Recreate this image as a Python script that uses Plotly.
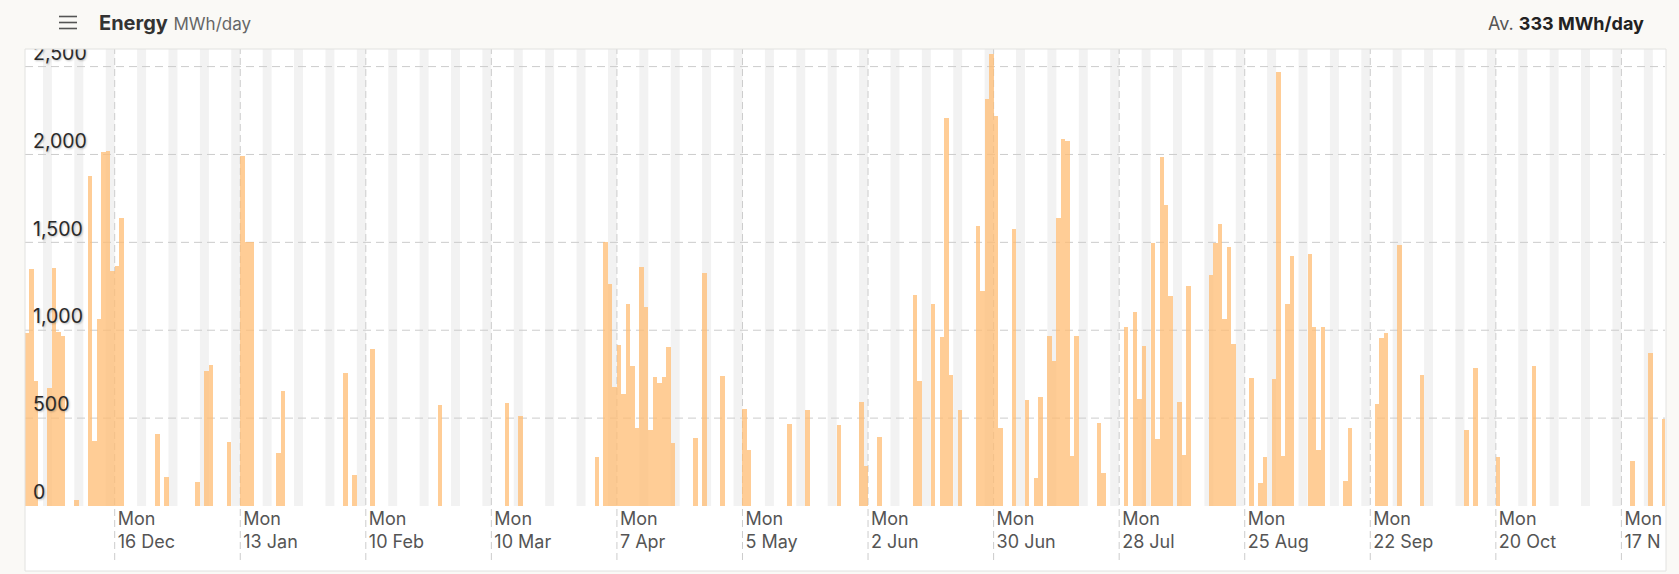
import plotly.graph_objects as go
from datetime import date, datetime, timedelta

# ---------------- data ----------------
RANGE_START = "2024-11-26 00:00"
RANGE_END = "2025-11-26 17:20"

days = [
    "2024-11-26", "2024-11-27", "2024-11-28", "2024-12-01", "2024-12-02", "2024-12-03",
    "2024-12-04", "2024-12-07", "2024-12-10", "2024-12-11", "2024-12-12", "2024-12-13",
    "2024-12-14", "2024-12-15", "2024-12-16", "2024-12-17", "2024-12-25", "2024-12-27",
    "2025-01-03", "2025-01-05", "2025-01-06", "2025-01-10", "2025-01-13", "2025-01-14",
    "2025-01-15", "2025-01-21", "2025-01-22", "2025-02-05", "2025-02-07", "2025-02-11",
    "2025-02-26", "2025-03-13", "2025-03-16", "2025-04-02", "2025-04-04", "2025-04-05",
    "2025-04-06", "2025-04-07", "2025-04-08", "2025-04-09", "2025-04-10", "2025-04-11",
    "2025-04-12", "2025-04-13", "2025-04-14", "2025-04-15", "2025-04-16", "2025-04-17",
    "2025-04-18", "2025-04-19", "2025-04-24", "2025-04-26", "2025-04-30", "2025-05-05",
    "2025-05-06", "2025-05-15", "2025-05-19", "2025-05-26", "2025-05-31", "2025-06-01",
    "2025-06-04", "2025-06-12", "2025-06-13", "2025-06-16", "2025-06-18", "2025-06-19",
    "2025-06-20", "2025-06-22", "2025-06-26", "2025-06-27", "2025-06-28", "2025-06-29",
    "2025-06-30", "2025-07-01", "2025-07-04", "2025-07-07", "2025-07-09", "2025-07-10",
    "2025-07-12", "2025-07-13", "2025-07-14", "2025-07-15", "2025-07-16", "2025-07-17",
    "2025-07-18", "2025-07-23", "2025-07-24", "2025-07-29", "2025-07-31", "2025-08-01",
    "2025-08-02", "2025-08-04", "2025-08-05", "2025-08-06", "2025-08-07", "2025-08-08",
    "2025-08-10", "2025-08-11", "2025-08-12", "2025-08-17", "2025-08-18", "2025-08-19",
    "2025-08-20", "2025-08-21", "2025-08-22", "2025-08-26", "2025-08-28", "2025-08-29",
    "2025-08-31", "2025-09-01", "2025-09-02", "2025-09-03", "2025-09-04", "2025-09-08",
    "2025-09-09", "2025-09-10", "2025-09-11", "2025-09-16", "2025-09-17", "2025-09-23",
    "2025-09-24", "2025-09-25", "2025-09-28", "2025-10-03", "2025-10-13", "2025-10-15",
    "2025-10-20", "2025-10-28", "2025-11-19", "2025-11-23", "2025-11-26",
]

energy_mwh = [
    983, 1348, 713, 669, 1352, 990,
    970, 36, 1876, 369, 1063, 2013,
    2021, 1336, 1363, 1639, 412, 165,
    135, 768, 802, 365, 1992, 1504,
    1502, 302, 656, 755, 179, 893,
    572, 587, 511, 279, 1504, 1264,
    679, 916, 637, 1150, 798, 445,
    1359, 1135, 435, 734, 701, 736,
    905, 359, 388, 1325, 741, 551,
    321, 464, 546, 460, 589, 230,
    393, 1200, 713, 1152, 964, 2205,
    745, 546, 1591, 1222, 2314, 2572,
    2218, 441, 1574, 603, 158, 622,
    968, 825, 1637, 2089, 2078, 283,
    968, 470, 188, 1017, 1101, 606,
    909, 1496, 384, 1988, 1713, 1196,
    593, 293, 1253, 1312, 1496, 1604,
    1066, 1475, 920, 726, 133, 278,
    720, 2471, 285, 1148, 1420, 1435,
    1017, 319, 1019, 143, 445, 580,
    958, 983, 1485, 747, 435, 785,
    281, 795, 255, 869, 493,
]

tick_dates = [
    "2024-12-16", "2025-01-13", "2025-02-10", "2025-03-10", "2025-04-07", "2025-05-05",
    "2025-06-02", "2025-06-30", "2025-07-28", "2025-08-25", "2025-09-22", "2025-10-20",
    "2025-11-17",
]
# the last label is cut off by the card's right edge in the original ("17 N...")
tick_labels = [
    "Mon<br>16 Dec", "Mon<br>13 Jan", "Mon<br>10 Feb", "Mon<br>10 Mar", "Mon<br>7 Apr",
    "Mon<br>5 May", "Mon<br>2 Jun", "Mon<br>30 Jun", "Mon<br>28 Jul", "Mon<br>25 Aug",
    "Mon<br>22 Sep", "Mon<br>20 Oct", "Mon<br>17 N",
]

y_tick_values = [0, 500, 1000, 1500, 2000, 2500]
y_axis_max = 2600
average_text = "333 MWh/day"

# ---------------- style / geometry ----------------
W, H = 1679, 574
M_L, M_R, M_T, M_B = 25, 14, 49, 68
PW, PH = W - M_L - M_R, H - M_T - M_B

PAGE_BG = "#FAF9F6"
BAR = "rgb(255,188,115)"
WEEKEND = "#F2F2F2"
GRID = "#CCCCCC"
FONT = "Inter"
CARD_RIGHT = 1666


def px_x(px):
    return (px - M_L) / PW


def px_y(py):
    return (H - M_B - py) / PH


bar_x = [d + "T12:00:00" for d in days]
DAY_MS = 86400000

fig = go.Figure(
    go.Bar(
        x=bar_x,
        y=energy_mwh,
        width=[DAY_MS] * len(days),
        marker=dict(color=BAR, opacity=0.75, line=dict(width=0)),
        hovertemplate="%{x|%a %d %b %Y}<br>%{y:,} MWh<extra></extra>",
    )
)

shapes = []
# white card behind everything
shapes.append(dict(type="rect", xref="paper", yref="paper",
                   x0=0, x1=px_x(CARD_RIGHT), y0=px_y(571), y1=1,
                   fillcolor="white", line=dict(width=0), layer="below"))

# weekend bands (Sat + Sun)
start = datetime.fromisoformat(RANGE_START).date()
end_dt = datetime.fromisoformat(RANGE_END)
d = start
while d <= end_dt.date():
    if d.weekday() == 5:
        e = min(datetime.combine(d + timedelta(days=2), datetime.min.time()), end_dt)
        shapes.append(dict(type="rect", xref="x", yref="paper",
                           x0=d.isoformat(), x1=e.isoformat(), y0=0, y1=1,
                           fillcolor=WEEKEND, line=dict(width=0), layer="below"))
    d += timedelta(days=1)

# horizontal dashed grid
for yv in y_tick_values:
    if yv > 0:
        shapes.append(dict(type="line", xref="paper", yref="y",
                           x0=0, x1=1, y0=yv, y1=yv,
                           line=dict(color=GRID, width=1, dash="8px,5px"), layer="below"))

# vertical dashed lines at labelled Mondays
for td in tick_dates:
    shapes.append(dict(type="line", xref="x", yref="paper",
                       x0=td, x1=td, y0=px_y(560), y1=1,
                       line=dict(color=GRID, width=1, dash="7px,4px"), layer="below"))

# header band drawn over the plot top (clips the top y label like the card does)
shapes.append(dict(type="rect", xref="paper", yref="paper",
                   x0=px_x(0), x1=px_x(W), y0=1, y1=px_y(0),
                   fillcolor=PAGE_BG, line=dict(width=0), layer="above"))
# cover past the card's right edge (clips the last label like the card does)
shapes.append(dict(type="rect", xref="paper", yref="paper",
                   x0=px_x(CARD_RIGHT), x1=px_x(W), y0=px_y(574), y1=px_y(506),
                   fillcolor=PAGE_BG, line=dict(width=0), layer="above"))
# card border
shapes.append(dict(type="rect", xref="paper", yref="paper",
                   x0=0, x1=px_x(CARD_RIGHT), y0=px_y(571), y1=1,
                   fillcolor="rgba(0,0,0,0)", line=dict(color="#E2E2E0", width=1), layer="above"))

# hamburger icon
for py in (16.5, 22.5, 28.5):
    shapes.append(dict(type="line", xref="paper", yref="paper",
                       x0=px_x(59), x1=px_x(77), y0=px_y(py), y1=px_y(py),
                       line=dict(color="#555555", width=1.6), layer="above"))

annotations = [
    dict(xref="paper", yref="paper", x=px_x(97), y=px_y(23.5), xanchor="left", yanchor="middle",
         showarrow=False,
         text="<b>Energy</b> <span style='font-size:17px;color:#666666'>MWh/day</span>",
         font=dict(family=FONT, size=20, color="#333333")),
    dict(xref="paper", yref="paper", x=px_x(1646), y=px_y(24), xanchor="right", yanchor="middle",
         showarrow=False,
         text="<span style='color:#555555'>Av.</span> <b>" + average_text + "</b>",
         font=dict(family=FONT, size=18, color="#222222")),
]

fig.update_layout(
    width=W, height=H, autosize=False,
    margin=dict(l=M_L, r=M_R, t=M_T, b=M_B, pad=0),
    paper_bgcolor=PAGE_BG,
    plot_bgcolor="white",
    showlegend=False,
    bargap=0,
    shapes=shapes,
    annotations=annotations,
    font=dict(family=FONT),
    xaxis=dict(
        type="date",
        range=[RANGE_START, RANGE_END],
        showgrid=False, zeroline=False, showline=False,
        ticks="",
        tickvals=tick_dates,
        ticktext=tick_labels,
        ticklabelposition="outside right",
        ticklabeloverflow="allow",
        ticklabelshift=3,
        tickfont=dict(family=FONT, size=18, color="#555555"),
        fixedrange=True,
    ),
    yaxis=dict(
        range=[0, y_axis_max],
        tickvals=y_tick_values,
        tickformat=",",
        showgrid=False, zeroline=False, showline=False,
        ticks="",
        ticklabelposition="inside top",
        ticklabeloverflow="allow",
        ticklabelstandoff=5,
        tickfont=dict(family=FONT, size=19.5, color="#2A2A2A",
                      shadow="1px 1px 2px rgba(0,0,0,0.25)"),
        fixedrange=True,
    ),
)

fig.write_html(
    "out.html",
    config={"displayModeBar": False},
    post_script="document.body.style.margin='0px';document.body.style.overflow='hidden';",
)
